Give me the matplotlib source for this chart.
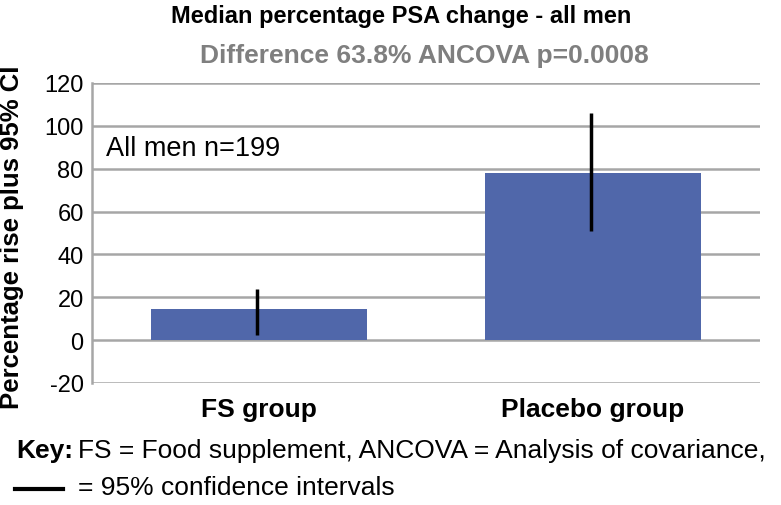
import matplotlib
matplotlib.use("Agg")
import matplotlib.pyplot as plt

categories = ["FS group", "Placebo group"]
medians = [14.5, 78.2]
ci_low = [2.3, 50.8]
ci_high = [23.8, 106.1]
yticks = [-20, 0, 20, 40, 60, 80, 100, 120]

plt.rcParams['font.family'] = ['Liberation Sans', 'DejaVu Sans']

W, H = 781, 506
fig = plt.figure(figsize=(W / 100, H / 100), dpi=100)
ax = fig.add_axes([92 / W, 1 - 384 / H, (760 - 92) / W, (384 - 84) / H])

x = list(range(len(categories)))
ax.bar(x, medians, width=0.645, color="#5067aa", zorder=3)
for xi, lo, hi in zip(x, ci_low, ci_high):
    ax.vlines(xi - 0.006, lo, hi, color="black", lw=2.5, zorder=4)

ax.set_xlim(-0.5, 1.5)
ax.set_ylim(-20, 120)
ax.set_yticks(yticks)
ax.set_yticklabels([str(t) for t in yticks], fontsize=17)
ax.yaxis.grid(True, color="#a6a6a6", lw=1.8, zorder=0)
ax.tick_params(axis="y", length=0, pad=6)
ax.tick_params(axis="x", length=0, pad=10)
ax.set_xticks(x)
ax.set_xticklabels(categories, fontsize=19, fontweight="bold")
for s in ["top", "right", "bottom"]:
    ax.spines[s].set_visible(False)
ax.spines["left"].set_color("#a6a6a6")
ax.spines["left"].set_linewidth(1.8)

fig.text(106 / W, 1 - 149 / H, "All men n=199", fontsize=19.5, va="center", ha="left")

fig.text(12 / W, 1 - 237 / H, "Percentage rise plus 95% CI", rotation=90, fontsize=18.5,
         fontweight="bold", ha="center", va="center")
fig.text(401 / W, 1 - 16 / H, "Median percentage PSA change - all men", fontsize=17,
         fontweight="bold", ha="center", va="center")
fig.text(424 / W, 1 - 56 / H, "Difference 63.8% ANCOVA p=0.0008", fontsize=19,
         fontweight="bold", ha="center", va="center", color="#7f7f7f")

t1 = fig.text(16 / W, 1 - 451 / H, "Key:", fontsize=19, fontweight="bold", ha="left", va="center")
fig.canvas.draw()
bb = t1.get_window_extent()
fig.text((bb.x1 + 5) / W, 1 - 451 / H, "FS = Food supplement, ANCOVA = Analysis of covariance,",
         fontsize=19, ha="left", va="center")
fig.add_artist(plt.Line2D([15 / W, 63 / W], [1 - 490 / H, 1 - 490 / H], color="black", lw=3))
fig.text(78 / W, 1 - 488 / H, "= 95% confidence intervals", fontsize=19, ha="left", va="center")

fig.savefig("out.png", dpi=100)
